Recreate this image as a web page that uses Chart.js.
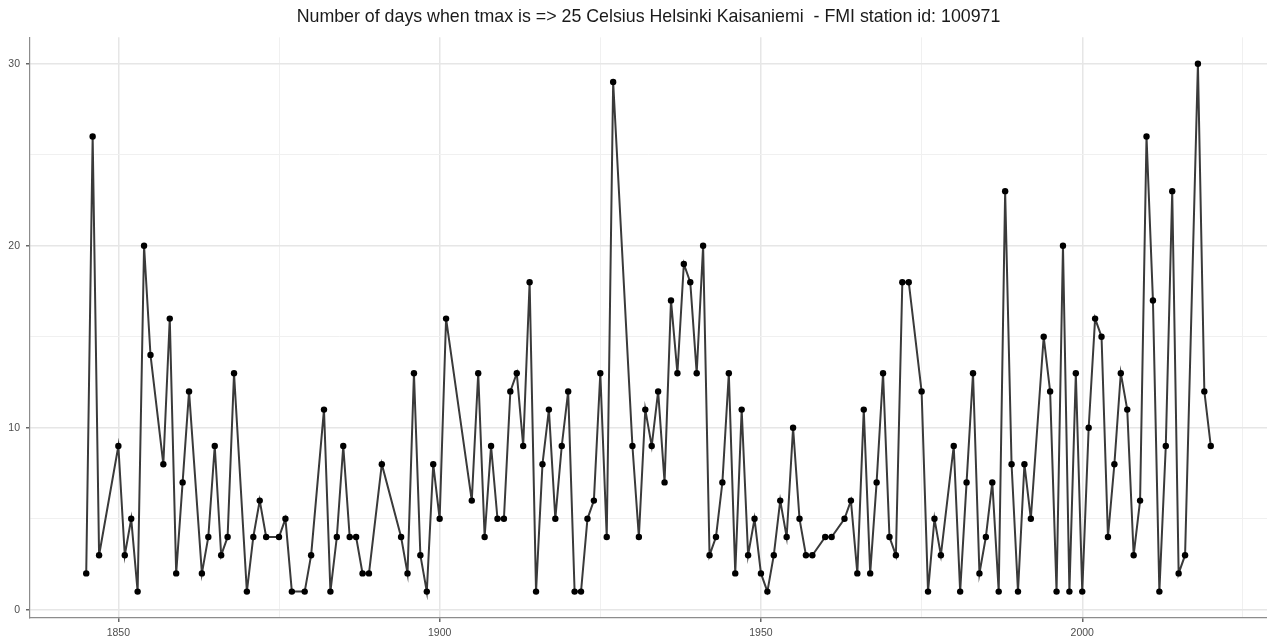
<!DOCTYPE html>
<html>
<head>
<meta charset="utf-8">
<title>Helsinki Kaisaniemi - days tmax >= 25</title>
<script src="https://cdn.jsdelivr.net/npm/chart.js@4/dist/chart.umd.min.js"></script>
<style>
  html, body { margin: 0; padding: 0; background: #ffffff; overflow: hidden; }
  #wrap { width: 1267px; height: 641px; overflow: hidden; }
</style>
</head>
<body>
<div id="wrap"><canvas id="chart" width="1271" height="641"></canvas></div>
<script>
'use strict';

/* years that have a value (gaps are connected by the line) */
const years = [
  1845, 1846, 1847, 1850, 1851, 1852, 1853, 1854, 1855, 1857, 1858, 1859, 1860, 1861,
  1863, 1864, 1865, 1866, 1867, 1868, 1870, 1871, 1872, 1873, 1875, 1876, 1877, 1879,
  1880, 1882, 1883, 1884, 1885, 1886, 1887, 1888, 1889, 1891, 1894, 1895, 1896, 1897,
  1898, 1899, 1900, 1901, 1905, 1906, 1907, 1908, 1909, 1910, 1911, 1912, 1913, 1914,
  1915, 1916, 1917, 1918, 1919, 1920, 1921, 1922, 1923, 1924, 1925, 1926, 1927, 1930,
  1931, 1932, 1933, 1934, 1935, 1936, 1937, 1938, 1939, 1940, 1941, 1942, 1943, 1944,
  1945, 1946, 1947, 1948, 1949, 1950, 1951, 1952, 1953, 1954, 1955, 1956, 1957, 1958,
  1960, 1961, 1963, 1964, 1965, 1966, 1967, 1968, 1969, 1970, 1971, 1972, 1973, 1975,
  1976, 1977, 1978, 1980, 1981, 1982, 1983, 1984, 1985, 1986, 1987, 1988, 1989, 1990,
  1991, 1992, 1994, 1995, 1996, 1997, 1998, 1999, 2000, 2001, 2002, 2003, 2004, 2005,
  2006, 2007, 2008, 2009, 2010, 2011, 2012, 2013, 2014, 2015, 2016, 2018, 2019, 2020
];

/* number of days with tmax >= 25 C */
const days = [
  2, 26, 3, 9, 3, 5, 1, 20, 14, 8, 16, 2, 7, 12,
  2, 4, 9, 3, 4, 13, 1, 4, 6, 4, 4, 5, 1, 1,
  3, 11, 1, 4, 9, 4, 4, 2, 2, 8, 4, 2, 13, 3,
  1, 8, 5, 16, 6, 13, 4, 9, 5, 5, 12, 13, 9, 18,
  1, 8, 11, 5, 9, 12, 1, 1, 5, 6, 13, 4, 29, 9,
  4, 11, 9, 12, 7, 17, 13, 19, 18, 13, 20, 3, 4, 7,
  13, 2, 11, 3, 5, 2, 1, 3, 6, 4, 10, 5, 3, 3,
  4, 4, 5, 6, 2, 11, 2, 7, 13, 4, 3, 18, 18, 12,
  1, 5, 3, 9, 1, 7, 13, 2, 4, 7, 1, 23, 8, 1,
  8, 5, 15, 12, 1, 20, 1, 13, 1, 10, 16, 15, 4, 8,
  13, 11, 3, 6, 26, 17, 1, 9, 23, 2, 3, 30, 12, 9
];

/* axis ticks: labelled majors and unlabelled minor grid lines */
const xMajor = [1850, 1900, 1950, 2000];
const xMinor = [1875, 1925, 1975, 2025];
const yMajor = [0, 10, 20, 30];
const yMinor = [5, 15, 25];

const TITLE = 'Number of days when tmax is => 25 Celsius Helsinki Kaisaniemi  - FMI station id: 100971';

/* ggplot style padding: 5% of the data range on each side */
function expanded(values) {
  const lo = Math.min(...values), hi = Math.max(...values);
  const pad = (hi - lo) * 0.05;
  return { min: lo - pad, max: hi + pad };
}

const FONT = "'Liberation Sans', Arial, Helvetica, sans-serif";
const xRange = expanded(years);
const yRange = expanded(days);

function axis(range, major, minor, pad, fitFn) {
  const all = major.concat(minor).sort((a, b) => a - b);
  return {
    type: 'linear',
    min: range.min,
    max: range.max,
    afterBuildTicks: scale => { scale.ticks = all.map(v => ({ value: v })); },
    afterFit: fitFn,
    ticks: {
      autoSkip: false,
      maxRotation: 0,
      padding: pad,
      color: '#4d4d4d',
      font: { size: 10.5, family: FONT },
      callback: v => (major.includes(v) ? String(v) : '')
    },
    grid: {
      color: ctx => (ctx.tick && major.includes(ctx.tick.value) ? '#e6e6e6' : '#f0f0f0'),
      lineWidth: ctx => (ctx.tick && major.includes(ctx.tick.value) ? 1.5 : 1),
      tickColor: ctx => (ctx.tick && major.includes(ctx.tick.value) ? '#666666' : 'rgba(0,0,0,0)'),
      tickLength: 4,
      drawTicks: true
    },
    border: { display: true, color: '#8c8c8c', width: 1.2 }
  };
}

/* centre the title over the plot panel, like ggplot does */
const titleOverPanel = {
  id: 'titleOverPanel',
  afterLayout(chart) {
    const t = chart.titleBlock;
    if (!t) return;
    t.left = chart.chartArea.left;
    t.right = chart.chartArea.right;
  }
};

const ctx = document.getElementById('chart').getContext('2d');

new Chart(ctx, {
  type: 'scatter',
  data: {
    datasets: [{
      data: years.map((yr, i) => ({ x: yr, y: days[i] })),
      showLine: true,
      borderColor: '#3a3a3a',
      borderWidth: 2,
      pointRadius: 3.2,
      pointBackgroundColor: '#000000',
      pointBorderColor: '#000000',
      pointBorderWidth: 0,
      tension: 0
    }]
  },
  options: {
    responsive: false,
    animation: false,
    layout: { padding: { left: 0, right: 0, top: 0, bottom: 0 } },
    plugins: {
      legend: { display: false },
      tooltip: { enabled: false },
      title: {
        display: true,
        text: TITLE,
        color: '#1a1a1a',
        font: { size: 17.8, weight: 'normal', family: FONT },
        padding: { top: 6, bottom: 10 }
      }
    },
    scales: {
      x: axis(xRange, xMajor, xMinor, 5, s => { s.height = 23; }),
      y: axis(yRange, yMajor, yMinor, 6, s => { s.width = 30; })
    }
  },
  plugins: [titleOverPanel]
});
</script>
</body>
</html>
